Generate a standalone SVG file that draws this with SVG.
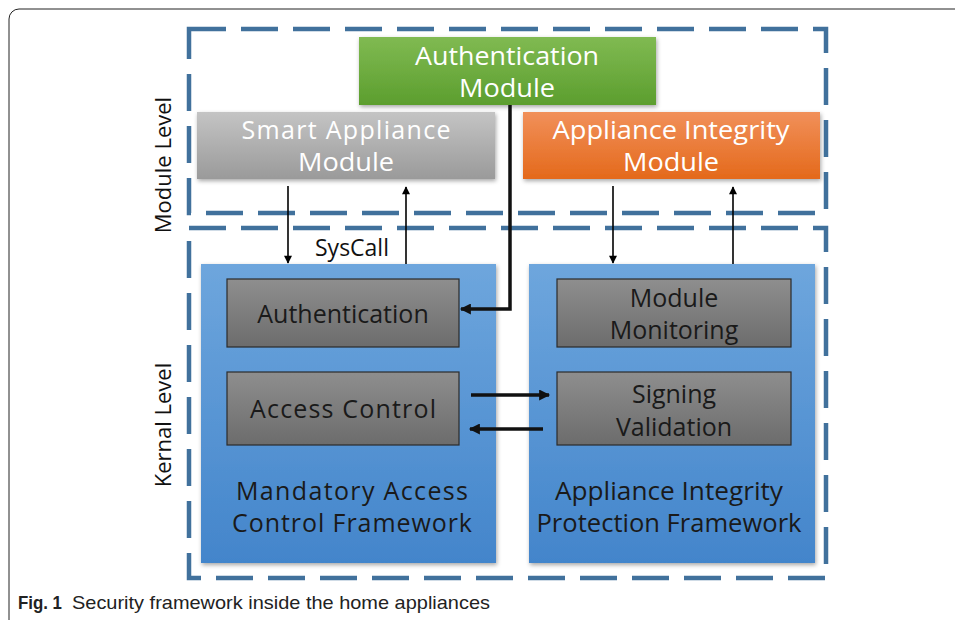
<svg xmlns="http://www.w3.org/2000/svg" width="955" height="620" viewBox="0 0 955 620">
  <defs>
    <linearGradient id="gGreen" x1="0" y1="0" x2="0" y2="1">
      <stop offset="0" stop-color="#80BA52"/>
      <stop offset="1" stop-color="#5C9E2E"/>
    </linearGradient>
    <linearGradient id="gGray" x1="0" y1="0" x2="0" y2="1">
      <stop offset="0" stop-color="#C4C4C4"/>
      <stop offset="1" stop-color="#9A9A9A"/>
    </linearGradient>
    <linearGradient id="gOrange" x1="0" y1="0" x2="0" y2="1">
      <stop offset="0" stop-color="#F1905A"/>
      <stop offset="1" stop-color="#E4691B"/>
    </linearGradient>
    <linearGradient id="gBlue" x1="0" y1="0" x2="0" y2="1">
      <stop offset="0" stop-color="#6EA6DD"/>
      <stop offset="1" stop-color="#4385CB"/>
    </linearGradient>
    <linearGradient id="gInner" x1="0" y1="0" x2="0" y2="1">
      <stop offset="0" stop-color="#8E8E8E"/>
      <stop offset="1" stop-color="#6C6C6C"/>
    </linearGradient>
    <filter id="shadow" x="-10%" y="-10%" width="120%" height="120%">
      <feDropShadow dx="1" dy="2" stdDeviation="2" flood-color="#000" flood-opacity="0.35"/>
    </filter>
    <marker id="ah" viewBox="0 0 10 10" refX="9" refY="5" markerWidth="9" markerHeight="8" orient="auto" markerUnits="userSpaceOnUse">
      <path d="M0,0 L10,5 L0,10 z" fill="#000"/>
    </marker>
    <marker id="ahBig" viewBox="0 0 10 10" refX="9" refY="5" markerWidth="12" markerHeight="11" orient="auto" markerUnits="userSpaceOnUse">
      <path d="M0,0 L10,5 L0,10 z" fill="#111"/>
    </marker>
  </defs>
  <style>
    .lvl { fill: none; stroke: #41719C; stroke-width: 4.5; stroke-dasharray: 37 15; }
    .wt { font-family: "Open Sans", "Noto Sans", "DejaVu Sans", sans-serif; font-size: 25px; fill: #FFFFFF; text-anchor: middle; }
    .dk { font-family: "Open Sans", "Noto Sans", "DejaVu Sans", sans-serif; font-size: 25px; fill: #1A1A1A; text-anchor: middle; }
    .side { font-family: "Open Sans", "Noto Sans", "DejaVu Sans", sans-serif; font-size: 22px; fill: #111; text-anchor: middle; }
    .thin { stroke: #000; stroke-width: 1.6; fill: none; }
    .thick { stroke: #111; stroke-width: 3.5; fill: none; }
    .inner { fill: url(#gInner); stroke: #2B2B2B; stroke-width: 1.2; }
    .cap { font-family: "Liberation Sans Narrow", "Liberation Sans", sans-serif; font-size: 19px; fill: #222; }
  </style>

  <rect width="955" height="620" fill="#FFFFFF"/>
  <!-- card outline -->
  <rect x="9" y="9" width="980" height="640" rx="10" ry="10" fill="none" stroke="#222" stroke-width="1"/>

  <!-- level boxes -->
  <g id="module-level">
    <rect class="lvl" x="189" y="29" width="637" height="184"/>
    <text class="side" transform="translate(171,165) rotate(-90)">Module Level</text>
  </g>
  <g id="kernal-level">
    <rect class="lvl" x="189" y="228" width="637" height="350"/>
    <text class="side" transform="translate(171,425) rotate(-90)">Kernal Level</text>
  </g>

  <!-- module level nodes -->
  <g id="authentication-module">
    <rect x="359" y="37" width="297" height="68" fill="url(#gGreen)" filter="url(#shadow)"/>
    <text class="wt" x="507" y="65" textLength="184" lengthAdjust="spacingAndGlyphs">Authentication</text>
    <text class="wt" x="507" y="97" textLength="96" lengthAdjust="spacingAndGlyphs">Module</text>
  </g>
  <g id="smart-appliance-module">
    <rect x="197" y="112" width="298" height="67" fill="url(#gGray)" filter="url(#shadow)"/>
    <text class="wt" x="346" y="139" textLength="209" lengthAdjust="spacing">Smart  Appliance</text>
    <text class="wt" x="346" y="171" textLength="96" lengthAdjust="spacingAndGlyphs">Module</text>
  </g>
  <g id="appliance-integrity-module">
    <rect x="523" y="112" width="297" height="67" fill="url(#gOrange)" filter="url(#shadow)"/>
    <text class="wt" x="671" y="139" textLength="237" lengthAdjust="spacingAndGlyphs">Appliance Integrity</text>
    <text class="wt" x="671" y="171" textLength="96" lengthAdjust="spacingAndGlyphs">Module</text>
  </g>

  <!-- kernel level frameworks -->
  <g id="mac-framework">
    <rect x="201" y="264" width="295" height="299" fill="url(#gBlue)" filter="url(#shadow)"/>
    <text class="dk" x="352" y="500" textLength="232" lengthAdjust="spacing">Mandatory  Access</text>
    <text class="dk" x="352" y="532" textLength="240" lengthAdjust="spacing">Control  Framework</text>
  </g>
  <g id="aip-framework">
    <rect x="529" y="264" width="286" height="299" fill="url(#gBlue)" filter="url(#shadow)"/>
    <text class="dk" x="669" y="500" textLength="228" lengthAdjust="spacingAndGlyphs">Appliance Integrity</text>
    <text class="dk" x="669" y="532" textLength="265" lengthAdjust="spacingAndGlyphs">Protection Framework</text>
  </g>
  <g id="authentication">
    <rect class="inner" x="227" y="279" width="232" height="68"/>
    <text class="dk" x="343" y="323">Authentication</text>
  </g>
  <g id="access-control">
    <rect class="inner" x="227" y="372" width="232" height="73"/>
    <text class="dk" x="343" y="418" textLength="186" lengthAdjust="spacing">Access  Control</text>
  </g>
  <g id="module-monitoring">
    <rect class="inner" x="557" y="279" width="234" height="68"/>
    <text class="dk" x="674" y="307">Module</text>
    <text class="dk" x="674" y="339">Monitoring</text>
  </g>
  <g id="signing-validation">
    <rect class="inner" x="557" y="372" width="234" height="73"/>
    <text class="dk" x="674" y="403">Signing</text>
    <text class="dk" x="674" y="436">Validation</text>
  </g>

  <!-- connectors -->
  <g id="connectors">
    <line class="thin" x1="288" y1="186" x2="288" y2="263" marker-end="url(#ah)"/>
    <line class="thin" x1="406" y1="264" x2="406" y2="187" marker-end="url(#ah)"/>
    <line class="thin" x1="613" y1="186" x2="613" y2="263" marker-end="url(#ah)"/>
    <line class="thin" x1="733" y1="264" x2="733" y2="187" marker-end="url(#ah)"/>
    <polyline class="thick" points="510,105 510,309 461,309" marker-end="url(#ahBig)"/>
    <line class="thick" x1="471" y1="395" x2="549" y2="395" marker-end="url(#ahBig)"/>
    <line class="thick" x1="543" y1="429" x2="470" y2="429" marker-end="url(#ahBig)"/>
    <text x="352" y="256" font-family="'Open Sans', 'Noto Sans', sans-serif" font-size="23" fill="#111" text-anchor="middle">SysCall</text>
  </g>

  <!-- caption -->
  <text class="cap" y="609"><tspan x="18" font-weight="bold" textLength="44" lengthAdjust="spacingAndGlyphs">Fig. 1</tspan><tspan x="72" textLength="418" lengthAdjust="spacingAndGlyphs">Security framework inside the home appliances</tspan></text>
</svg>
